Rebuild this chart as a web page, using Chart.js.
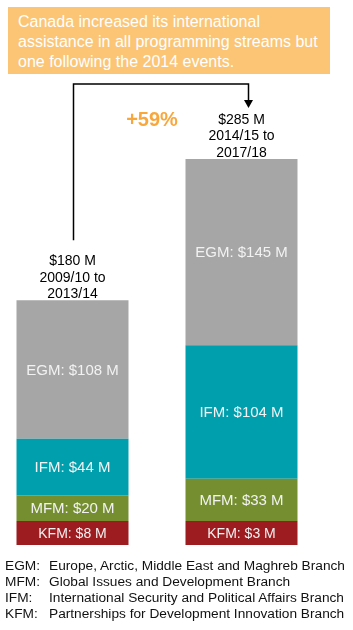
<!DOCTYPE html>
<html>
<head>
<meta charset="utf-8">
<script src="https://cdn.jsdelivr.net/npm/chart.js@4.4.1/dist/chart.umd.min.js"></script>
<style>
  html, body { margin: 0; padding: 0; background: #ffffff; }
  body { width: 353px; height: 630px; position: relative; overflow: hidden;
         font-family: "Liberation Sans", Arial, sans-serif; }
  #wrap { position: absolute; left: -12px; top: 0; width: 365px; height: 630px; }
  #title { position: absolute; left: 8px; top: 7px; width: 312px; height: 62px;
           padding: 5px 0 0 10px; background: #FBC575; color: #ffffff;
           font-size: 16px; line-height: 20px; z-index: 2; }
  #legend { position: absolute; left: 5px; top: 558px; font-size: 13.7px; line-height: 16px;
            color: #111111; z-index: 2; }
  #legend .row { white-space: nowrap; height: 16px; position: relative; }
  #legend .abbr { position: absolute; left: 0; }
  #legend .desc { position: absolute; left: 44px; }
</style>
</head>
<body>
<div id="title"></div>
<div id="wrap"><canvas id="c" width="365" height="630"></canvas></div>
<div id="legend"></div>
<script>
// ---- data ----
const titleLines = [
  'Canada increased its international',
  'assistance in all programming streams but',
  'one following the 2014 events.'
];
const periods = [['2009/10 to', '2013/14'], ['2014/15 to', '2017/18']];
const seriesNames = ['KFM', 'MFM', 'IFM', 'EGM'];      // bottom to top
const kfm = [8, 3];
const mfm = [20, 33];
const ifm = [44, 104];
const egm = [108, 145];
const changeLabel = '+59%';
const legendAbbr = ['EGM:', 'MFM:', 'IFM:', 'KFM:'];
const legendDesc = [
  'Europe, Arctic, Middle East and Maghreb Branch',
  'Global Issues and Development Branch',
  'International Security and Political Affairs Branch',
  'Partnerships for Development Innovation Branch'
];
const colors = ['#9C1C20', '#758F30', '#009FAE', '#A6A6A6'];

const FONT = '"Liberation Sans", Arial, sans-serif';
const seriesValues = [kfm, mfm, ifm, egm];
const totals = kfm.map((_, i) => seriesValues.reduce((s, arr) => s + arr[i], 0));

document.getElementById('title').innerHTML = titleLines.join('<br>');
document.getElementById('legend').innerHTML = legendAbbr.map((a, i) =>
  '<div class="row"><span class="abbr">' + a + '</span><span class="desc">' + legendDesc[i] + '</span></div>'
).join('');

const labelPlugin = {
  id: 'labels',
  afterDatasetsDraw(chart) {
    const ctx = chart.ctx;
    ctx.save();
    // segment labels
    chart.data.datasets.forEach((ds, di) => {
      const meta = chart.getDatasetMeta(di);
      meta.data.forEach((bar, i) => {
        const y = (bar.y + bar.base) / 2;
        ctx.fillStyle = '#F2F2F2';
        ctx.font = (di === 0 ? '14px ' : '15px ') + FONT;
        ctx.textAlign = 'center';
        ctx.textBaseline = 'middle';
        ctx.fillText(ds.label + ': $' + ds.data[i] + ' M', bar.x, y + 1);
      });
    });
    // totals above bars
    const topMeta = chart.getDatasetMeta(chart.data.datasets.length - 1);
    const firstLineY = [];
    topMeta.data.forEach((bar, i) => {
      const lines = ['$' + totals[i] + ' M'].concat(periods[i]);
      ctx.fillStyle = '#000000';
      ctx.font = '14px ' + FONT;
      ctx.textAlign = 'center';
      ctx.textBaseline = 'middle';
      const lastY = bar.y - 6;
      lines.forEach((t, k) => {
        ctx.fillText(t, bar.x, lastY - (lines.length - 1 - k) * 16.5);
      });
      firstLineY.push(lastY - (lines.length - 1) * 16.5);
    });
    // arrow
    const b0 = topMeta.data[0], b1 = topMeta.data[1];
    const topY = firstLineY[1] - 36;
    const x0 = Math.round(b0.x) + 0.5;
    const x1 = Math.round(b1.x + 6) + 0.5;
    const tipY = firstLineY[1] - 12;
    ctx.strokeStyle = '#000000';
    ctx.lineWidth = 1.5;
    ctx.beginPath();
    ctx.moveTo(x0, firstLineY[0] - 21);
    ctx.lineTo(x0, topY);
    ctx.lineTo(x1, topY);
    ctx.lineTo(x1, tipY - 7);
    ctx.stroke();
    ctx.fillStyle = '#000000';
    ctx.beginPath();
    ctx.moveTo(x1 - 4.5, tipY - 8);
    ctx.lineTo(x1 + 4.5, tipY - 8);
    ctx.lineTo(x1, tipY);
    ctx.closePath();
    ctx.fill();
    // change label
    ctx.fillStyle = '#F8A73D';
    ctx.font = 'bold 20px ' + FONT;
    ctx.textAlign = 'center';
    ctx.textBaseline = 'middle';
    ctx.fillText(changeLabel, (b0.x + b1.x) / 2 - 5, topY + 36);
    ctx.restore();
  }
};

new Chart(document.getElementById('c'), {
  type: 'bar',
  data: {
    labels: periods.map(p => p.join(' ')),
    datasets: seriesNames.map((n, i) => ({
      label: n,
      data: seriesValues[i],
      backgroundColor: colors[i],
      borderWidth: 0,
      minBarLength: 24,
      categoryPercentage: 1,
      barPercentage: 0.6627
    }))
  },
  options: {
    responsive: false,
    animation: false,
    devicePixelRatio: 1,
    layout: { padding: { left: 0, right: 27, top: 6, bottom: 85 } },
    plugins: { legend: { display: false }, tooltip: { enabled: false }, title: { display: false } },
    scales: {
      x: { stacked: true, display: false, grid: { display: false } },
      y: { stacked: true, display: false, min: 0, max: 420, grid: { display: false } }
    }
  },
  plugins: [labelPlugin]
});
</script>
</body>
</html>
